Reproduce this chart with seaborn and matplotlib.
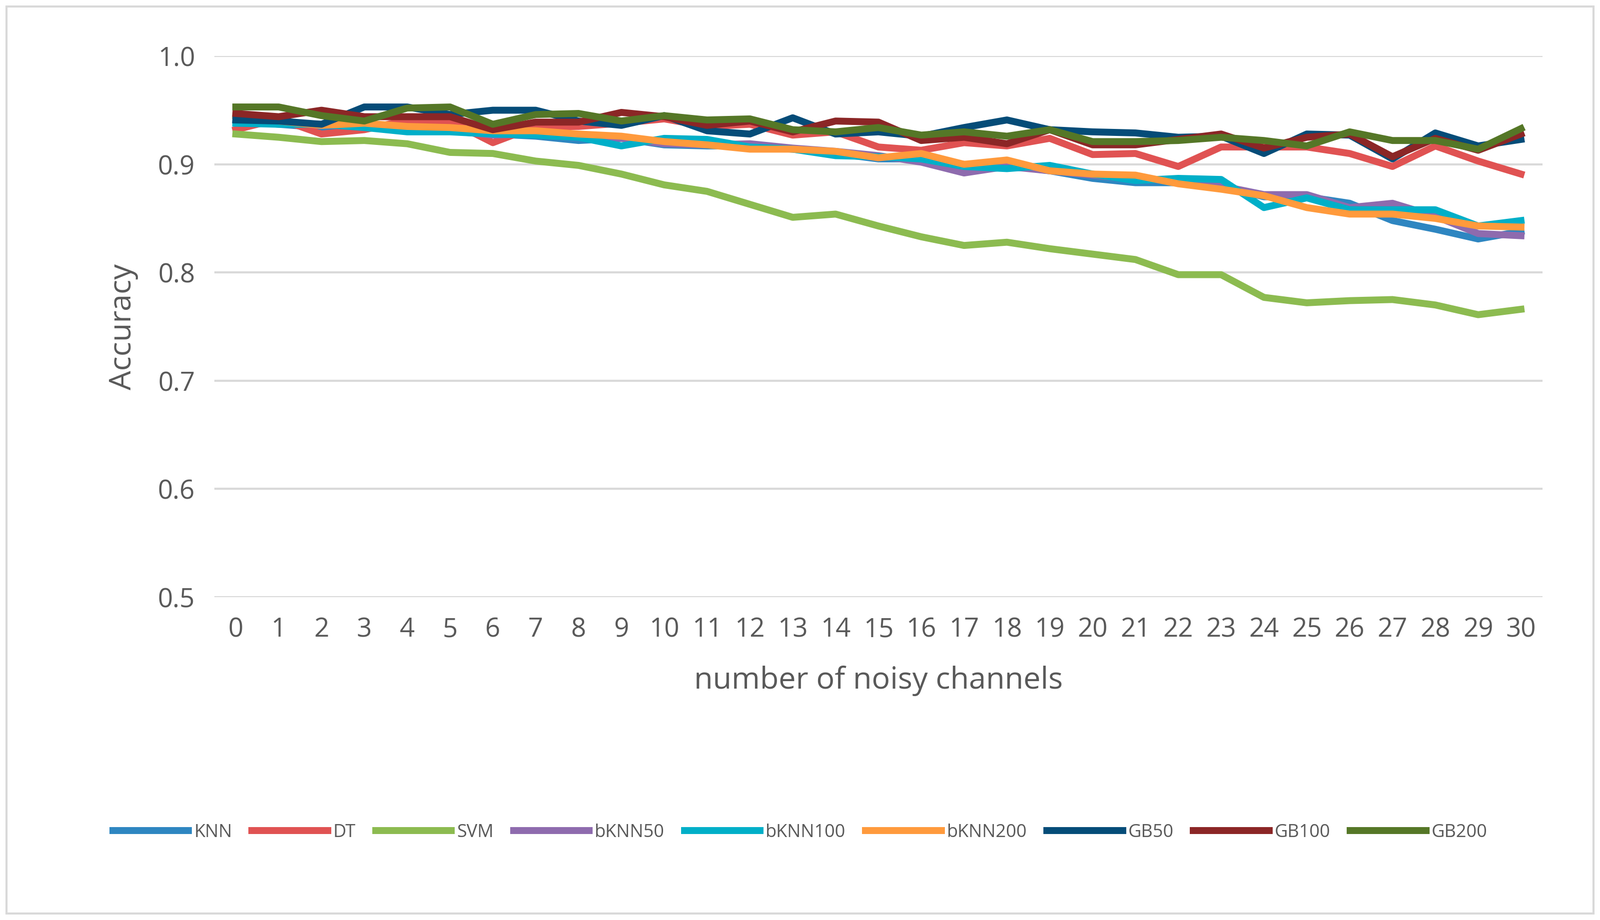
import matplotlib
matplotlib.use("Agg")
import matplotlib.pyplot as plt
import seaborn as sns
import pandas as pd
from matplotlib.patches import Rectangle
from matplotlib.lines import Line2D

plt.rcParams["font.family"] = "Open Sans"

x = list(range(31))
KNN = [0.941,0.937,0.934,0.934,0.932,0.932,0.928,0.926,0.922,0.924,0.918,0.917,0.917,0.914,0.910,0.905,0.905,0.900,0.899,0.894,0.887,0.883,0.883,0.880,0.870,0.870,0.864,0.848,0.840,0.831,0.838]
DT = [0.932,0.942,0.928,0.932,0.941,0.940,0.920,0.935,0.935,0.938,0.942,0.935,0.937,0.927,0.930,0.916,0.913,0.920,0.917,0.924,0.909,0.910,0.898,0.916,0.916,0.916,0.910,0.898,0.917,0.903,0.891]
SVM = [0.928,0.925,0.921,0.922,0.919,0.911,0.910,0.903,0.899,0.891,0.881,0.875,0.863,0.851,0.854,0.843,0.833,0.825,0.828,0.822,0.817,0.812,0.798,0.798,0.777,0.772,0.774,0.775,0.770,0.761,0.766]
bKNN50 = [0.938,0.938,0.937,0.934,0.932,0.931,0.927,0.928,0.926,0.924,0.919,0.918,0.919,0.915,0.912,0.908,0.902,0.892,0.898,0.894,0.890,0.886,0.886,0.880,0.872,0.872,0.860,0.864,0.852,0.836,0.834]
bKNN100 = [0.938,0.937,0.937,0.934,0.930,0.930,0.928,0.927,0.925,0.917,0.924,0.923,0.916,0.914,0.908,0.907,0.905,0.898,0.896,0.899,0.891,0.885,0.887,0.886,0.860,0.869,0.858,0.858,0.858,0.843,0.848]
bKNN200 = [0.945,0.940,0.936,0.938,0.935,0.934,0.931,0.931,0.928,0.926,0.921,0.918,0.914,0.914,0.912,0.906,0.910,0.900,0.904,0.894,0.891,0.890,0.882,0.877,0.871,0.860,0.854,0.854,0.850,0.843,0.842]
GB50 = [0.941,0.940,0.937,0.953,0.953,0.946,0.950,0.950,0.940,0.936,0.945,0.931,0.928,0.943,0.928,0.930,0.926,0.934,0.941,0.932,0.930,0.929,0.925,0.926,0.910,0.928,0.927,0.905,0.929,0.917,0.923]
GB100 = [0.947,0.944,0.950,0.944,0.944,0.944,0.932,0.939,0.939,0.948,0.944,0.936,0.940,0.930,0.940,0.939,0.922,0.925,0.919,0.932,0.918,0.918,0.923,0.928,0.915,0.925,0.928,0.907,0.924,0.913,0.928]
GB200 = [0.953,0.953,0.945,0.940,0.952,0.953,0.937,0.946,0.947,0.940,0.945,0.941,0.942,0.932,0.930,0.934,0.927,0.930,0.926,0.932,0.921,0.921,0.922,0.925,0.922,0.917,0.930,0.922,0.922,0.914,0.933]

names = ["KNN","DT","SVM","bKNN50","bKNN100","bKNN200","GB50","GB100","GB200"]
series = [KNN,DT,SVM,bKNN50,bKNN100,bKNN200,GB50,GB100,GB200]
colors = ["#2E86C1","#E05252","#8CBB50","#8E6BAE","#00AFC8","#FF9A3C","#054C78","#8B2626","#557727"]

rows = []
for n, s in zip(names, series):
    for xi, v in zip(x, s):
        rows.append({"x": xi, "Accuracy": v, "model": n})
df = pd.DataFrame(rows)

gray = "#595959"
fig = plt.figure(figsize=(16.01, 9.205), dpi=200)
ax = fig.add_axes([0.134, 0.351, 0.83, 0.588])
sns.lineplot(data=df, x="x", y="Accuracy", hue="model", palette=dict(zip(names, colors)),
             hue_order=names, linewidth=5, ax=ax, legend=False)
ax.set_xlim(-0.5, 30.5)
ax.set_ylim(0.5, 1.0)
ax.set_yticks([0.5,0.6,0.7,0.8,0.9,1.0])
ax.set_yticklabels(["0.5","0.6","0.7","0.8","0.9","1.0"])
ax.set_xticks(x)
ax.tick_params(length=0, labelsize=19, colors=gray, pad=14)
ax.grid(axis="y", color="#D9D9D9", linewidth=1.5)
ax.set_axisbelow(True)
for sp in ax.spines.values():
    sp.set_visible(False)
ax.set_xlabel("number of noisy channels", fontsize=22, color=gray, labelpad=16)
ax.set_ylabel("Accuracy", fontsize=22, color=gray, labelpad=14)

handles = [Line2D([], [], color=c, linewidth=5) for c in colors]
fig.legend(handles, names, loc="center", bbox_to_anchor=(0.5, 0.095), ncol=9, frameon=False,
           fontsize=13, labelcolor=gray, handlelength=4.2, columnspacing=1.1, handletextpad=0.3)
fig.add_artist(Rectangle((0.004, 0.007), 0.992, 0.986, transform=fig.transFigure,
                         fill=False, edgecolor="#D9D9D9", linewidth=1.5))
fig.savefig("out.png", dpi=200, facecolor="white")
